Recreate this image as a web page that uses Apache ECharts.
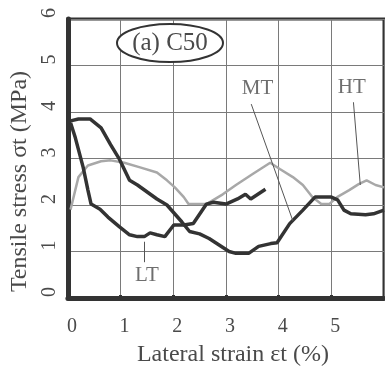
<!DOCTYPE html>
<html>
<head>
<meta charset="utf-8">
<script src="https://cdn.jsdelivr.net/npm/echarts@6/dist/echarts.min.js"></script>
<style>
  html, body { margin: 0; padding: 0; background: #fff; }
  #chart { width: 385px; height: 372px; }
</style>
</head>
<body>
<div id="chart"></div>
<script>
// Tensile stress vs lateral strain, C50
const ltStrain = [0.05, 0.14, 0.29, 0.38, 0.44, 0.61, 0.76, 0.98, 1.17, 1.32, 1.45, 1.56, 1.69, 1.84, 2.01, 2.20, 2.38, 2.63, 2.76, 3.00, 3.22, 3.37, 3.47, 3.75];
const ltStress = [3.77, 3.45, 2.81, 2.32, 2.02, 1.91, 1.74, 1.53, 1.36, 1.32, 1.32, 1.40, 1.36, 1.32, 1.57, 1.57, 1.60, 2.02, 2.06, 2.02, 2.13, 2.23, 2.13, 2.34];

const mtStrain = [0.05, 0.20, 0.42, 0.63, 0.81, 0.98, 1.17, 1.32, 1.69, 1.88, 2.16, 2.31, 2.50, 2.68, 3.06, 3.19, 3.43, 3.62, 3.85, 3.97, 4.21, 4.46, 4.69, 5.00, 5.12, 5.24, 5.37, 5.65, 5.80, 6.00];
const mtStress = [3.81, 3.85, 3.85, 3.66, 3.30, 2.98, 2.53, 2.43, 2.13, 2.00, 1.64, 1.43, 1.38, 1.28, 1.00, 0.96, 0.96, 1.11, 1.17, 1.19, 1.60, 1.89, 2.17, 2.17, 2.11, 1.89, 1.81, 1.79, 1.81, 1.89];

const htStrain = [0.05, 0.20, 0.38, 0.63, 0.81, 1.07, 1.37, 1.69, 1.88, 2.03, 2.20, 2.29, 2.63, 2.94, 3.19, 3.50, 3.84, 4.03, 4.27, 4.46, 4.64, 4.81, 4.96, 5.11, 5.34, 5.52, 5.67, 5.84, 6.00];
const htStress = [1.90, 2.60, 2.85, 2.94, 2.96, 2.91, 2.81, 2.70, 2.53, 2.38, 2.17, 2.02, 2.02, 2.23, 2.43, 2.66, 2.91, 2.77, 2.60, 2.43, 2.17, 2.02, 2.02, 2.17, 2.32, 2.45, 2.53, 2.43, 2.38];

// curve labels and their leader lines (data coordinates)
const labelNames = ['LT', 'MT', 'HT'];
const labelPos = [[1.50, 0.49], [3.60, 4.51], [5.39, 4.52]];
const leaderFrom = [[1.455, 1.21], [3.48, 4.17], [5.42, 4.21]];
const leaderTo = [[1.455, 0.77], [4.27, 1.66], [5.55, 2.43]];

const ticks = [0, 1, 2, 3, 4, 5, 6];
const panelTitle = '(a) C50';

const zip = (xs, ys) => xs.map((x, i) => [x, ys[i]]);
const serif = '"Liberation Serif", "DejaVu Serif", serif';
const textColor = '#4a4a4a';
const dark = '#333333';

const chart = echarts.init(document.getElementById('chart'));

const option = {
  animation: false,
  grid: {
    left: 64, right: 1, top: 19, bottom: 71,
    show: true, borderColor: dark, borderWidth: 3, backgroundColor: 'transparent'
  },
  xAxis: {
    type: 'value',
    min: ticks[0], max: ticks[ticks.length - 1], interval: 1,
    name: 'Lateral strain εt (%)',
    nameLocation: 'middle',
    nameGap: 45,
    nameTextStyle: { fontFamily: serif, fontSize: 24, color: textColor, padding: [0, 0, 0, 14] },
    axisLine: { show: true, lineStyle: { color: dark, width: 5 } },
    axisTick: { show: true, inside: true, length: 3, lineStyle: { color: dark, width: 3 } },
    axisLabel: {
      fontFamily: serif, fontSize: 20, color: textColor, margin: 19,
      padding: [0, 0, 0, 8], showMaxLabel: false
    },
    splitLine: { show: true, lineStyle: { color: '#7a7a7a', width: 1 } }
  },
  yAxis: {
    type: 'value',
    min: ticks[0], max: ticks[ticks.length - 1], interval: 1,
    name: 'Tensile stress σt (MPa)',
    nameLocation: 'middle',
    nameGap: 28,
    nameTextStyle: { fontFamily: serif, fontSize: 24, color: textColor, padding: [0, 46, 0, 0] },
    axisLine: { show: true, lineStyle: { color: dark, width: 5 } },
    axisTick: { show: true, inside: true, length: 3, lineStyle: { color: dark, width: 3 } },
    axisLabel: {
      fontFamily: serif, fontSize: 20, color: textColor, margin: 8, rotate: 90,
      padding: [0, 0, 0, 12]
    },
    splitLine: { show: true, lineStyle: { color: '#7a7a7a', width: 1 } }
  },
  series: [
    {
      name: 'HT', type: 'line', data: zip(htStrain, htStress),
      showSymbol: false,
      lineStyle: { color: '#a8a8a8', width: 2.5 }, z: 3
    },
    {
      name: 'MT', type: 'line', data: zip(mtStrain, mtStress),
      showSymbol: false,
      lineStyle: { color: dark, width: 3.5 }, z: 4
    },
    {
      name: 'LT', type: 'line', data: zip(ltStrain, ltStress),
      showSymbol: false,
      lineStyle: { color: dark, width: 3.5 }, z: 4
    },
    {
      // leader lines
      type: 'lines', coordinateSystem: 'cartesian2d',
      data: leaderFrom.map((p, i) => ({ coords: [p, leaderTo[i]] })),
      lineStyle: { color: '#555', width: 1, opacity: 1 },
      symbol: 'none', z: 5
    },
    {
      // curve labels
      type: 'scatter', symbolSize: 0,
      data: labelPos.map((p, i) => ({ value: p, name: labelNames[i] })),
      label: {
        show: true, position: 'inside', formatter: '{b}',
        fontFamily: serif, fontSize: 21, color: textColor
      },
      z: 6
    }
  ],
  graphic: [
    {
      type: 'ellipse',
      shape: { cx: 170, cy: 43, rx: 53, ry: 19 },
      style: { fill: '#fff', stroke: dark, lineWidth: 2 },
      z: 100
    },
    {
      type: 'text',
      x: 170, y: 43,
      style: {
        text: panelTitle, fontFamily: serif, fontSize: 25, fill: textColor,
        align: 'center', verticalAlign: 'middle'
      },
      z: 101
    }
  ]
};

chart.setOption(option);
</script>
</body>
</html>
